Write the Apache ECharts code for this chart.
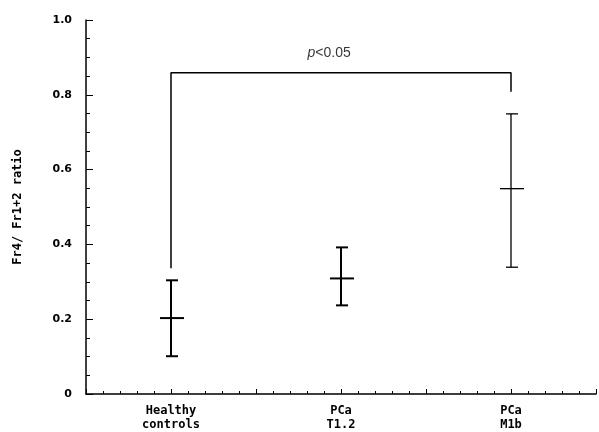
<!DOCTYPE html>
<html lang="en">
<head>
    <meta charset="UTF-8">
    <title>Fr4/Fr1+2 ratio</title>
    <script type="text/javascript" src="https://cdn.jsdelivr.net/npm/echarts@6/dist/echarts.min.js"></script>
    <style>
        html, body { margin: 0; padding: 0; background: #fff; }
        #chart { width: 599px; height: 432px; }
    </style>
</head>
<body>
    <div id="chart"></div>
</body>
<script type="text/javascript">

    var groups = ['Healthy\ncontrols', 'PCa\nT1.2', 'PCa\nM1b'];
    var means  = [0.203, 0.309, 0.549];
    var lowers = [0.101, 0.237, 0.339];
    var uppers = [0.304, 0.392, 0.749];

    // bracket between group 1 and group 3
    var bracketX = [1, 1, 3, 3];
    var bracketY = [0.336, 0.859, 0.859, 0.808];
    var pPos = [1.93, 0.912];

    var barData = [];
    for (var i = 0; i < groups.length; i++) {
        barData.push([i + 1, means[i], lowers[i], uppers[i]]);
    }
    var bracketData = [];
    for (var j = 0; j < bracketX.length; j++) {
        bracketData.push([bracketX[j], bracketY[j]]);
    }

    function renderItem(params, api) {
        var x = api.value(0);
        var m = api.coord([x, api.value(1)]);
        var lo = api.coord([x, api.value(2)]);
        var hi = api.coord([x, api.value(3)]);
        var lw = params.dataIndex === 2 ? 1.3 : 2;
        var st = { stroke: '#000', lineWidth: lw };
        return {
            type: 'group',
            children: [
                { type: 'line', shape: { x1: lo[0], y1: lo[1], x2: hi[0], y2: hi[1] }, style: st },
                { type: 'line', shape: { x1: hi[0] - 5, y1: hi[1], x2: hi[0] + 7, y2: hi[1] }, style: st },
                { type: 'line', shape: { x1: lo[0] - 5, y1: lo[1], x2: lo[0] + 7, y2: lo[1] }, style: st },
                { type: 'line', shape: { x1: m[0] - 11, y1: m[1], x2: m[0] + 13, y2: m[1] }, style: st }
            ]
        };
    }

    var myChart = echarts.init(document.getElementById('chart'));

    var options = {
        animation: false,
        grid: {
            left: 86,
            right: 1,
            top: 20,
            bottom: 37
        },
        xAxis: {
            type: 'value',
            min: 0.5,
            max: 3.5,
            interval: 0.5,
            splitLine: { show: false },
            axisLine: { lineStyle: { color: '#000', width: 1.5 } },
            axisTick: { inside: true, length: 5, lineStyle: { color: '#000' } },
            minorTick: { show: true, splitNumber: 5, length: 3, lineStyle: { color: '#000' } },
            axisLabel: {
                color: '#000',
                margin: 10,
                fontFamily: 'DejaVu Sans Mono',
                fontWeight: 'bold',
                fontSize: 12,
                lineHeight: 14,
                formatter: function (v) {
                    var k = Math.round(v * 10) / 10;
                    if (k % 1 === 0 && k >= 1 && k <= groups.length) return groups[k - 1];
                    return '';
                }
            }
        },
        yAxis: {
            type: 'value',
            min: 0,
            max: 1,
            interval: 0.2,
            name: 'Fr4/ Fr1+2 ratio',
            nameLocation: 'middle',
            nameGap: 62,
            nameTextStyle: {
                color: '#000',
                fontFamily: 'DejaVu Sans Mono',
                fontWeight: 'bold',
                fontSize: 12
            },
            splitLine: { show: false },
            axisLine: { show: true, lineStyle: { color: '#000', width: 1.5 } },
            axisTick: { inside: true, length: 7, lineStyle: { color: '#000' } },
            minorTick: { show: true, splitNumber: 4, length: 4, lineStyle: { color: '#000' } },
            axisLabel: {
                color: '#000',
                margin: 14,
                fontFamily: 'DejaVu Sans',
                fontWeight: 'bold',
                fontSize: 11,
                formatter: function (v) {
                    return v === 0 ? '0' : v.toFixed(1);
                }
            }
        },
        series: [
            {
                type: 'custom',
                renderItem: renderItem,
                encode: { x: 0, y: [1, 2, 3] },
                data: barData,
                z: 3
            },
            {
                type: 'line',
                data: bracketData,
                symbol: 'none',
                lineStyle: { color: '#000', width: 1.5 },
                z: 2
            },
            {
                type: 'scatter',
                data: [pPos],
                symbolSize: 0,
                label: {
                    show: true,
                    position: 'inside',
                    color: '#000',
                    textBorderWidth: 0,
                    formatter: '{i|p}{n|<0.05}',
                    rich: {
                        i: { fontStyle: 'italic', fontSize: 14, fontFamily: 'Liberation Sans', color: '#000' },
                        n: { fontSize: 14, fontFamily: 'Liberation Sans', color: '#000' }
                    }
                }
            }
        ]
    };
    myChart.setOption(options);

</script>
</html>
